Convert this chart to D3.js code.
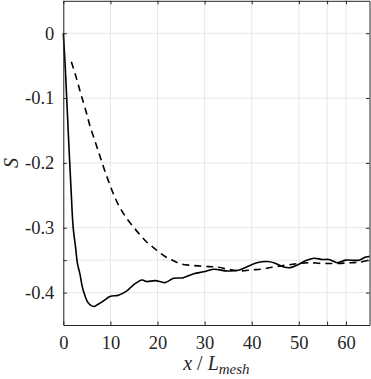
<!DOCTYPE html>
<html>
<head>
<meta charset="utf-8">
<script src="https://cdn.jsdelivr.net/npm/d3@7"></script>
<style>
  body { margin: 0; background: #fff; }
  svg { display: block; }
  text { font-family: "Liberation Serif", "DejaVu Serif", serif; fill: #262626; }
</style>
</head>
<body>
<div id="chart"></div>
<script>
// solid curve
const solidX = [0, 0.4, 0.72, 1.1, 1.64, 2.1, 2.6, 3.0, 3.55, 4.0, 4.6, 5.3, 6.4, 7.4, 8.5, 9.9, 11.7, 13.5, 14.9, 16.7, 17.7, 19.5, 21.6, 23.4, 25.5, 27.7, 29.8, 31.9, 34.8, 37.2, 39.4, 41.1, 43.3, 44.7, 46.8, 48.2, 49.7, 51.4, 53.2, 55, 56.4, 58.2, 59.9, 62.8, 64.2, 65];
const solidY = [0, -0.05, -0.10, -0.16, -0.24, -0.30, -0.33, -0.355, -0.372, -0.39, -0.405, -0.416, -0.4215, -0.418, -0.413, -0.406, -0.404, -0.3975, -0.388, -0.3806, -0.383, -0.3815, -0.3846, -0.378, -0.377, -0.371, -0.368, -0.364, -0.3667, -0.3657, -0.359, -0.354, -0.352, -0.354, -0.3606, -0.3615, -0.3575, -0.351, -0.347, -0.349, -0.349, -0.354, -0.350, -0.350, -0.345, -0.3446];

// dashed curve
const dashX = [1.7, 2.5, 3.2, 3.9, 4.8, 5.7, 6.8, 7.8, 8.8, 9.9, 11, 12.1, 13.5, 14.9, 16.3, 17.7, 19.2, 20.6, 22, 23.4, 25, 27, 29, 31, 33, 35, 37.6, 40, 42, 44.3, 46, 48, 50, 52, 55, 58, 61, 63, 65];
const dashY = [-0.044, -0.062, -0.08, -0.098, -0.12, -0.144, -0.168, -0.19, -0.212, -0.234, -0.254, -0.270, -0.286, -0.299, -0.311, -0.322, -0.331, -0.339, -0.346, -0.351, -0.356, -0.358, -0.359, -0.360, -0.361, -0.364, -0.3665, -0.365, -0.364, -0.361, -0.359, -0.357, -0.355, -0.354, -0.355, -0.355, -0.354, -0.353, -0.3495];

const xTicks = [0, 10, 20, 30, 40, 50, 56, 60];
const xLabels = ["0", "10", "20", "30", "40", "50", "", "60"];
const yTicks = [-0.4, -0.35, -0.3, -0.2, -0.1, 0];
const yLabels = ["-0.4", "", "-0.3", "-0.2", "-0.1", "0"];

const W = 371, H = 379;
const m = { top: 0.8, right: 1.5, bottom: 54, left: 63.3 };
const iw = W - m.left - m.right, ih = H - m.top - m.bottom;

const svg = d3.select("#chart").append("svg").attr("width", W).attr("height", H);
const g = svg.append("g").attr("transform", `translate(${m.left},${m.top})`);

const x = d3.scaleLinear().domain([0, 65]).range([0, iw]);
const y = d3.scaleLinear().domain([-0.45, 0.05]).range([ih, 0]);

// grid
g.append("g").selectAll("line").data(xTicks).join("line")
  .attr("x1", d => x(d)).attr("x2", d => x(d)).attr("y1", 0).attr("y2", ih)
  .attr("stroke", "#e6e6e6").attr("stroke-width", 1);
g.append("g").selectAll("line").data(yTicks).join("line")
  .attr("y1", d => y(d)).attr("y2", d => y(d)).attr("x1", 0).attr("x2", iw)
  .attr("stroke", "#e6e6e6").attr("stroke-width", 1);

// lines
const line = d3.line().x(d => x(d[0])).y(d => y(d[1])).curve(d3.curveCatmullRom);
g.append("path").datum(d3.zip(dashX, dashY)).attr("d", line)
  .attr("fill", "none").attr("stroke", "#000").attr("stroke-width", 1.6).attr("stroke-dasharray", "7,5");
g.append("path").datum(d3.zip(solidX, solidY)).attr("d", line)
  .attr("fill", "none").attr("stroke", "#000").attr("stroke-width", 1.6);

// axes
const xLab = d => xLabels[xTicks.indexOf(d)];
const yLab = d => yLabels[yTicks.indexOf(d)];
const styleAxis = sel => {
  sel.select(".domain").attr("stroke", "#262626");
  sel.selectAll(".tick line").attr("stroke", "#262626");
  sel.selectAll("text").attr("font-size", "18.5px").attr("font-family", "Liberation Serif").attr("fill", "#262626");
};
g.append("g").attr("transform", `translate(0,${ih})`)
  .call(d3.axisBottom(x).tickValues(xTicks).tickFormat(xLab).tickSizeInner(-3.5).tickSizeOuter(0).tickPadding(11))
  .call(styleAxis);
g.append("g")
  .call(d3.axisTop(x).tickValues(xTicks).tickFormat("").tickSizeInner(-3.5).tickSizeOuter(0))
  .call(styleAxis);
g.append("g")
  .call(d3.axisLeft(y).tickValues(yTicks).tickFormat(yLab).tickSizeInner(-3.5).tickSizeOuter(0).tickPadding(9))
  .call(styleAxis);
g.append("g").attr("transform", `translate(${iw},0)`)
  .call(d3.axisRight(y).tickValues(yTicks).tickFormat("").tickSizeInner(-3.5).tickSizeOuter(0))
  .call(styleAxis);

// axis labels
const xl = svg.append("text").attr("x", m.left + iw / 2).attr("y", 370)
  .attr("text-anchor", "middle").attr("font-size", "20px");
xl.append("tspan").attr("font-style", "italic").text("x");
xl.append("tspan").text(" / ");
xl.append("tspan").attr("font-style", "italic").text("L");
xl.append("tspan").attr("font-style", "italic").attr("font-size", "15px").attr("dy", 3.5).text("mesh");

svg.append("text").attr("transform", `translate(18,${m.top + y(-0.2)}) rotate(-90)`)
  .attr("text-anchor", "middle").attr("font-size", "20px").attr("font-style", "italic").text("S");
</script>
</body>
</html>
